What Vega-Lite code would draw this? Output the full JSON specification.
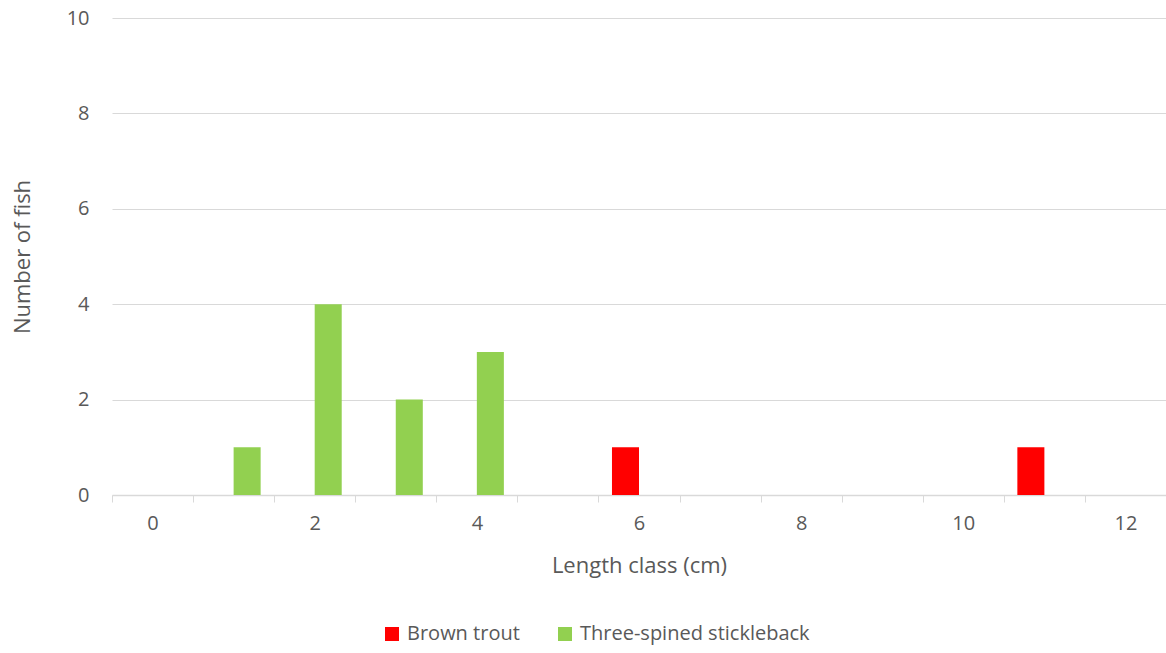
{
  "$schema": "https://vega.github.io/schema/vega-lite/v6.json",
  "width": 1054,
  "height": 477,
  "autosize": {"type": "none"},
  "padding": {"left": 112, "top": 18, "right": 0, "bottom": 158},
  "background": "white",
  "config": {
    "view": {"stroke": null},
    "font": "Open Sans",
    "axis": {"labelColor": "#595959", "titleColor": "#595959", "labelFont": "Open Sans", "titleFont": "Open Sans", "labelFontSize": 20, "titleFontSize": 22, "titleFontWeight": "normal"},
    "legend": {"labelColor": "#595959", "labelFont": "Open Sans", "labelFontSize": 20, "labelLimit": 0}
  },
  "data": {"values": [
    {"length": 1, "species": "Three-spined stickleback", "count": 1},
    {"length": 2, "species": "Three-spined stickleback", "count": 4},
    {"length": 3, "species": "Three-spined stickleback", "count": 2},
    {"length": 4, "species": "Three-spined stickleback", "count": 3},
    {"length": 6, "species": "Brown trout", "count": 1},
    {"length": 11, "species": "Brown trout", "count": 1}
  ]},
  "mark": {"type": "bar"},
  "encoding": {
    "x": {
      "field": "length", "type": "ordinal",
      "scale": {"domain": [0,1,2,3,4,5,6,7,8,9,10,11,12], "paddingInner": 0, "paddingOuter": 0},
      "title": "Length class (cm)",
      "axis": {
        "labelAngle": 0,
        "labelExpr": "datum.value % 2 == 0 ? datum.label : ''",
        "tickBand": "extent",
        "tickSize": 7,
        "tickColor": "#d9d9d9",
        "domainColor": "#d9d9d9",
        "domainWidth": 1.5,
        "labelPadding": 11,
        "titlePadding": 22,
        "grid": false
      }
    },
    "xOffset": {
      "field": "species", "type": "nominal",
      "scale": {"domain": ["Brown trout", "Three-spined stickleback"], "paddingInner": 0, "paddingOuter": 0.5}
    },
    "y": {
      "field": "count", "type": "quantitative",
      "scale": {"domain": [0, 10]},
      "title": "Number of fish",
      "axis": {
        "values": [0,2,4,6,8,10],
        "domain": false,
        "ticks": false,
        "gridColor": "#d9d9d9",
        "labelPadding": 23,
        "titlePadding": 32
      }
    },
    "color": {
      "field": "species", "type": "nominal",
      "scale": {"domain": ["Brown trout", "Three-spined stickleback"], "range": ["#ff0000", "#92d050"]},
      "legend": {"orient": "none", "legendX": 270, "legendY": 606, "direction": "horizontal", "title": null, "symbolType": "square", "symbolSize": 196, "symbolStrokeWidth": 0, "columnPadding": 35, "labelOffset": 5}
    }
  }
}
